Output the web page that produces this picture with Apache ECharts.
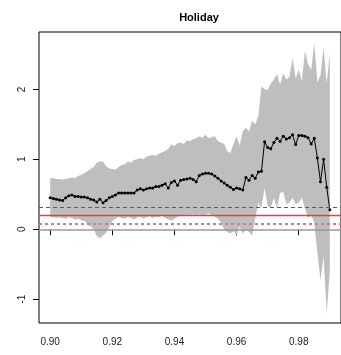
<!DOCTYPE html>
<html>
<head>
<meta charset="utf-8">
<script src="https://cdn.jsdelivr.net/npm/echarts@6/dist/echarts.min.js"></script>
<style>html,body{margin:0;padding:0;background:#fff}#c{width:341px;height:355px}</style>
</head>
<body>
<div id="c"></div>
<script>
var chartTitle = "Holiday";
var xs = [0.900,0.901,0.902,0.903,0.904,0.905,0.906,0.907,0.908,0.909,
0.910,0.911,0.912,0.913,0.914,0.915,0.916,0.917,0.918,0.919,
0.920,0.921,0.922,0.923,0.924,0.925,0.926,0.927,0.928,0.929,
0.930,0.931,0.932,0.933,0.934,0.935,0.936,0.937,0.938,0.939,
0.940,0.941,0.942,0.943,0.944,0.945,0.946,0.947,0.948,0.949,
0.950,0.951,0.952,0.953,0.954,0.955,0.956,0.957,0.958,0.959,
0.960,0.961,0.962,0.963,0.964,0.965,0.966,0.967,0.968,0.969,
0.970,0.971,0.972,0.973,0.974,0.975,0.976,0.977,0.978,0.979,
0.980,0.981,0.982,0.983,0.984,0.985,0.986,0.987,0.988,0.989,0.990];
var estimate = [0.45,0.44,0.43,0.42,0.41,0.45,0.48,0.49,0.47,0.47,
0.46,0.46,0.45,0.43,0.42,0.39,0.43,0.38,0.41,0.45,
0.47,0.49,0.52,0.52,0.52,0.52,0.52,0.52,0.56,0.58,
0.56,0.58,0.59,0.59,0.61,0.61,0.63,0.65,0.59,0.67,
0.69,0.63,0.70,0.71,0.72,0.73,0.71,0.68,0.77,0.79,
0.80,0.80,0.79,0.76,0.73,0.69,0.66,0.63,0.60,0.57,
0.59,0.58,0.56,0.74,0.70,0.77,0.73,0.82,0.83,1.25,
1.17,1.15,1.24,1.30,1.26,1.33,1.29,1.31,1.35,1.21,
1.34,1.34,1.33,1.31,1.22,1.30,1.02,0.68,1.00,0.60,0.28];
var upper = [0.73,0.73,0.72,0.72,0.71,0.72,0.73,0.74,0.73,0.76,
0.78,0.80,0.83,0.86,0.89,0.95,0.97,0.97,0.90,0.87,
0.86,0.85,0.89,0.92,0.93,0.97,0.95,0.99,1.00,1.02,
1.00,1.04,1.05,1.06,1.05,1.08,1.10,1.12,1.15,1.21,
1.19,1.23,1.24,1.22,1.27,1.26,1.29,1.30,1.33,1.31,
1.35,1.30,1.32,1.33,1.26,1.24,1.22,1.11,1.09,1.22,
1.33,1.20,1.40,1.45,1.40,1.55,1.50,1.62,2.04,2.00,
1.99,2.08,2.14,2.22,2.07,2.23,2.14,2.18,2.45,2.16,
2.28,2.12,2.55,2.36,2.28,2.66,2.10,2.20,2.60,2.09,2.52];
var lower = [0.18,0.17,0.16,0.17,0.16,0.15,0.17,0.16,0.14,0.15,
0.13,0.12,0.08,0.04,0.00,-0.10,-0.13,-0.09,-0.05,0.03,
0.12,0.15,0.18,0.16,0.15,0.18,0.16,0.14,0.17,0.18,
0.15,0.17,0.19,0.16,0.18,0.17,0.20,0.16,0.14,0.12,
0.15,0.18,0.20,0.19,0.21,0.20,0.22,0.19,0.22,0.20,
0.21,0.23,0.20,0.18,0.15,0.10,0.00,-0.04,-0.06,-0.03,
-0.08,0.04,-0.06,0.00,-0.04,-0.09,0.15,0.38,0.30,0.59,
0.33,0.31,0.45,0.30,0.52,0.54,0.36,0.38,0.45,0.36,
0.38,0.45,0.30,0.16,0.20,0.09,-0.34,-0.72,-0.39,-1.20,-0.60];
var refDashTop = 0.317;
var refSolid = 0.197;
var refDashLow = 0.079;
var zeroLine = 0;
var xTicks = [0.90,0.92,0.94,0.96,0.98];
var yTicks = [-1,0,1,2];

var bandData = xs.map(function(x,i){return [x, lower[i], upper[i]];});
var estPts = xs.map(function(x,i){return [x, estimate[i]];});

var chart = echarts.init(document.getElementById('c'), null, {renderer:'canvas'});
var font = 'Liberation Sans, Arial, sans-serif';
chart.setOption({
  animation:false,
  title:{text:chartTitle,left:194,top:7,textAlign:'center',
    textStyle:{fontFamily:font,fontWeight:'bold',fontSize:11,color:'#000'}},
  grid:{left:39,top:32,right:-8,bottom:32,show:true,borderColor:'#000',borderWidth:1,backgroundColor:'transparent',containLabel:false},
  xAxis:{type:'value',min:0.8964,max:0.9936,
    axisLine:{show:false},splitLine:{show:false},
    axisTick:{show:true,customValues:xTicks,length:6,inside:false,lineStyle:{color:'#000'}},
    axisLabel:{customValues:xTicks,margin:14,fontFamily:font,fontSize:10,color:'#222',
      formatter:function(v){return v.toFixed(2);}}},
  yAxis:{type:'value',min:-1.34,max:2.82,
    axisLine:{show:false},splitLine:{show:false},
    axisTick:{show:true,customValues:yTicks,length:6,lineStyle:{color:'#000'}},
    axisLabel:{customValues:yTicks,rotate:90,margin:12,fontFamily:font,fontSize:10,color:'#222',
      formatter:function(v){return String(v);}}},
  series:[
    {type:'custom',data:bandData,z:1,silent:true,clip:true,
      encode:{x:0,y:[1,2]},
      renderItem:function(params, api){
        if(params.dataIndex!==0) return null;
        var top=[], bot=[];
        for(var i=0;i<bandData.length;i++){
          top.push(api.coord([bandData[i][0], bandData[i][2]]));
          bot.push(api.coord([bandData[i][0], bandData[i][1]]));
        }
        var pts = top.concat(bot.reverse());
        return {type:'polygon',shape:{points:pts},style:{fill:'#bebebe',stroke:null},
          clipPath:{type:'rect',shape:{x:params.coordSys.x,y:params.coordSys.y,width:params.coordSys.width,height:params.coordSys.height}}};
      }},
    {type:'line',data:[],z:3,silent:true,
      markLine:{silent:true,symbol:'none',label:{show:false},animation:false,
        data:[
          {yAxis:zeroLine,lineStyle:{color:'#999999',width:1.5,type:'solid'}},
          {yAxis:refDashLow,lineStyle:{color:'#f47070',width:2,type:[3,3]}},
          {yAxis:refSolid,lineStyle:{color:'#f03a3a',width:1.3,type:'solid'}},
          {yAxis:refDashTop,lineStyle:{color:'#e42222',width:1.2,type:[4,3]}}
        ]}},
    {type:'line',data:estPts,z:4,symbol:'circle',symbolSize:3,showSymbol:true,
      itemStyle:{color:'#000'},lineStyle:{color:'#000',width:1},silent:true}
  ]
});
</script>
</body>
</html>
